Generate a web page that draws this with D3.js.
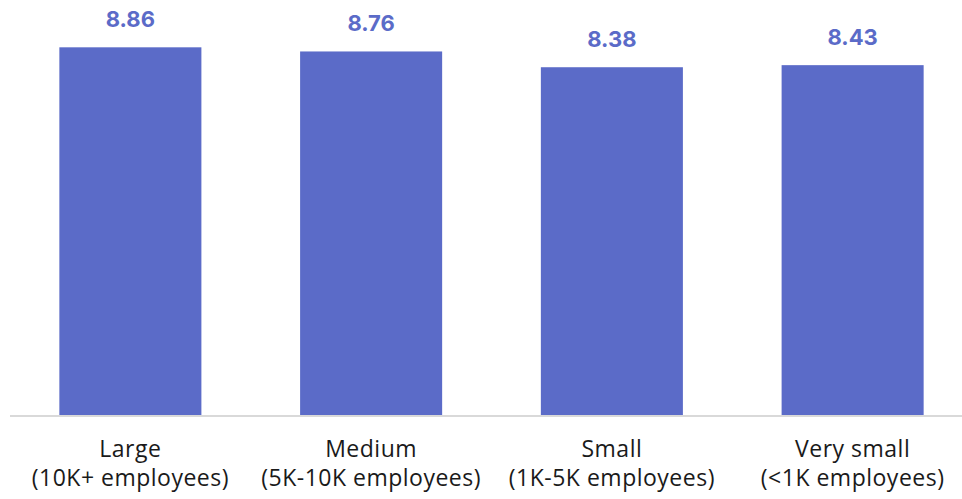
<!DOCTYPE html>
<html><head><meta charset="utf-8">
<script src="https://cdn.jsdelivr.net/npm/d3@7"></script>
<style>html,body{margin:0;padding:0;background:#fff;overflow:hidden}</style>
</head><body>
<svg id="c" width="962" height="499"></svg>
<script>
const categories = ["Large", "Medium", "Small", "Very small"];
const subLabels = ["(10K+ employees)", "(5K-10K employees)", "(1K-5K employees)", "(<1K employees)"];
const values = [8.86, 8.76, 8.38, 8.43];
const yDomain = [0, 10];

const svg = d3.select("#c");
const baseY = 415;
const x = d3.scaleBand().domain(categories).range([10, 973]).paddingInner(0.41).paddingOuter(0.205);
const y = d3.scaleLinear().domain(yDomain).range([baseY, 0]);

svg.append("line").attr("x1", 10).attr("x2", 962).attr("y1", baseY + 1).attr("y2", baseY + 1)
  .attr("stroke", "#d9d9d9").attr("stroke-width", 2);

svg.selectAll("rect.bar").data(values).join("rect").attr("class", "bar")
  .attr("x", (d, i) => x(categories[i])).attr("width", x.bandwidth())
  .attr("y", d => y(d)).attr("height", d => y(0) - y(d))
  .attr("fill", "#5b6bc8");

svg.selectAll("text.val").data(values).join("text").attr("class", "val")
  .attr("x", (d, i) => x(categories[i]) + x.bandwidth() / 2)
  .attr("y", d => y(d) - 20)
  .attr("text-anchor", "middle")
  .attr("font-family", "Inter, 'Open Sans', sans-serif")
  .attr("font-weight", 700).attr("font-size", 22)
  .attr("fill", "#5b6bc8")
  .text(d => d.toFixed(2));

const lab = svg.selectAll("g.lab").data(categories).join("g").attr("class", "lab")
  .attr("transform", d => `translate(${x(d) + x.bandwidth() / 2},0)`);
lab.append("text").attr("y", 457).attr("text-anchor", "middle")
  .attr("font-family", "'Open Sans', sans-serif").attr("font-size", 23).attr("letter-spacing", 0.5).attr("fill", "#1a1a1a")
  .text(d => d);
lab.append("text").attr("y", 486).attr("text-anchor", "middle")
  .attr("font-family", "'Open Sans', sans-serif").attr("font-size", 23).attr("letter-spacing", 0.5).attr("fill", "#1a1a1a")
  .text((d, i) => subLabels[i]);
</script>
</body></html>
